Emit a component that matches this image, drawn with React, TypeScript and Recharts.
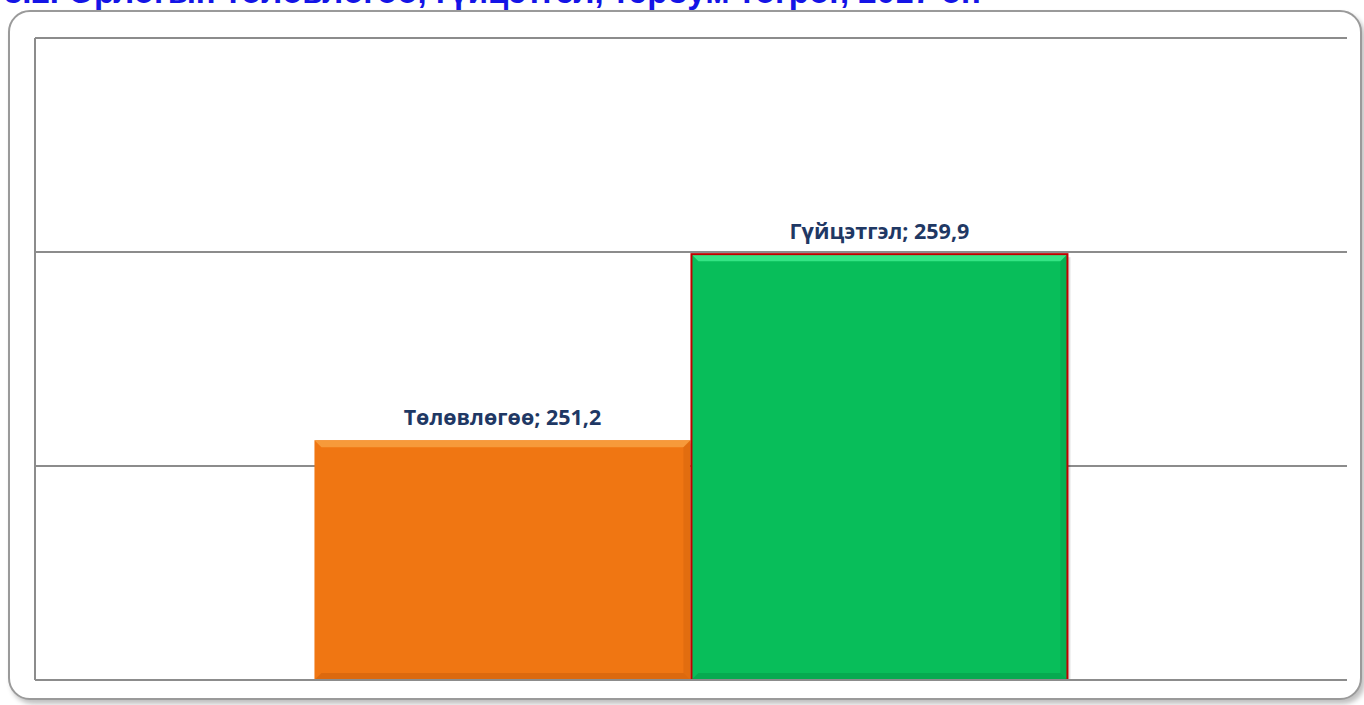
import React from 'react';
import { BarChart, Bar, XAxis, YAxis, CartesianGrid, LabelList } from 'recharts';

const categories = ['2017'];
const planValues = [251.2];
const actualValues = [259.9];
const seriesNames = ['Төлөвлөгөө', 'Гүйцэтгэл'];
const yTicks = [240, 250, 260, 270];

const title = '3.2. Орлогын төлөвлөгөө, гүйцэтгэл, тэрбум төгрөг, 2017 он';

const data = categories.map((c, i) => ({
  name: c,
  plan: planValues[i],
  actual: actualValues[i],
}));

const fmt = (v: number) => v.toFixed(1).replace('.', ',');

// bar with a light bevel along the edges, like the office chart style
const BevelBar = (props: any) => {
  const { x, y, width, height, fill, light, dark, stroke } = props;
  if (!height || height <= 0) return null;
  const b = 7;
  return (
    <g>
      <rect x={x + 3} y={y + 3} width={width} height={height} fill="#000" opacity={0.12} />
      <rect x={x} y={y} width={width} height={height} fill={fill} />
      <polygon points={`${x},${y} ${x + width},${y} ${x + width - b},${y + b} ${x + b},${y + b}`} fill={light} />
      <polygon points={`${x},${y + height} ${x + width},${y + height} ${x + width - b},${y + height - b} ${x + b},${y + height - b}`} fill={dark} opacity={0.35} />
      <polygon points={`${x + width},${y} ${x + width},${y + height} ${x + width - b},${y + height - b} ${x + width - b},${y + b}`} fill={dark} opacity={0.25} />
      {stroke && <rect x={x} y={y} width={width} height={height} fill="none" stroke={stroke} strokeWidth={2} />}
    </g>
  );
};

const makeLabel = (name: string) => (props: any) => {
  const { x, y, width, value } = props;
  return (
    <text
      x={x + width / 2}
      y={y - 15}
      textAnchor="middle"
      fontFamily="'Open Sans', Lato, sans-serif"
      fontWeight={700}
      fontSize={21.5}
      fill="#1F3864"
    >
      {`${name}; ${fmt(value)}`}
    </text>
  );
};

export default function App() {
  return (
    <div style={{ position: 'fixed', left: 0, top: 0, width: 1364, height: 705, background: '#fff', overflow: 'hidden' }}>
      <div
        style={{
          position: 'absolute',
          left: 8,
          top: 10,
          width: 1350,
          height: 686,
          border: '2px solid #9a9a9a',
          borderRadius: 22,
          boxShadow: '3px 4px 5px rgba(0,0,0,0.25)',
          background: '#fff',
        }}
      />
      <div
        style={{
          position: 'absolute',
          left: 4,
          top: -27,
          fontFamily: "'Liberation Sans', Arial, sans-serif",
          fontWeight: 700,
          fontSize: 33,
          color: '#1414E6',
          whiteSpace: 'nowrap',
        }}
      >
        {title}
      </div>
      <div style={{ position: 'absolute', left: 0, top: 0 }}>
        <BarChart
          width={1364}
          height={705}
          data={data}
          margin={{ top: 38, right: 17, bottom: 24, left: 34 }}
          barCategoryGap="21.3%"
          barGap={1}
        >
          <CartesianGrid horizontal vertical={false} stroke="#8c8c8c" strokeWidth={2} />
          <XAxis
            dataKey="name"
            height={1}
            tick={() => <g />}
            tickLine={false}
            axisLine={{ stroke: '#8c8c8c', strokeWidth: 2 }}
          />
          <YAxis
            width={1}
            domain={[240, 270]}
            ticks={yTicks}
            tick={() => <g />}
            tickLine={false}
            axisLine={{ stroke: '#8c8c8c', strokeWidth: 2 }}
            allowDataOverflow
          />
          <Bar
            dataKey="plan"
            name={seriesNames[0]}
            fill="#F07612"
            isAnimationActive={false}
            shape={(p: any) => <BevelBar {...p} fill="#F07612" light="#F79A3A" dark="#B65308" />}
          >
            <LabelList dataKey="plan" content={makeLabel(seriesNames[0])} />
          </Bar>
          <Bar
            dataKey="actual"
            name={seriesNames[1]}
            fill="#08BE5A"
            isAnimationActive={false}
            shape={(p: any) => <BevelBar {...p} fill="#08BE5A" light="#35E585" dark="#04883F" stroke="#C00000" />}
          >
            <LabelList dataKey="actual" content={makeLabel(seriesNames[1])} />
          </Bar>
        </BarChart>
      </div>
    </div>
  );
}
